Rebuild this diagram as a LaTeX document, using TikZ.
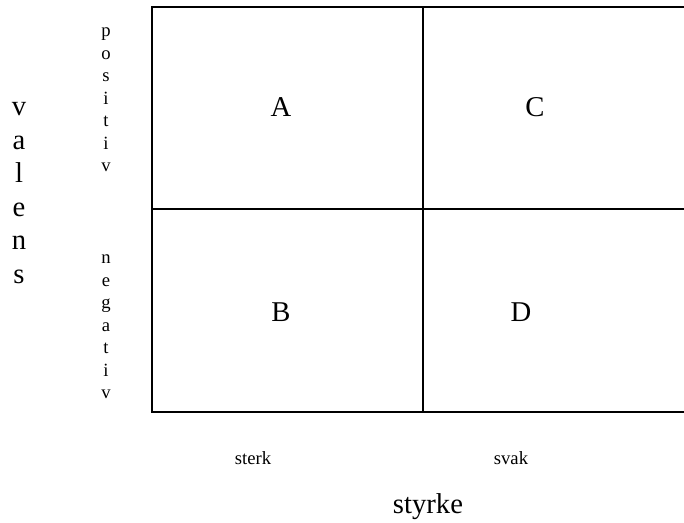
\documentclass[tikz,border=0pt]{standalone}
\usepackage{fontspec}
\setmainfont{Liberation Serif}
\usetikzlibrary{positioning}

\begin{document}
\begin{tikzpicture}[x=0.75pt, y=-0.75pt,
    big/.style={font=\fontsize{21.5}{25.2}\selectfont, inner sep=0pt, align=center},
    small/.style={font=\fontsize{14}{16.9}\selectfont, inner sep=0pt, align=center},
    grid/.style={line width=1.5pt}]
    \useasboundingbox (0,0) rectangle (684,523);
    % rutenett
    \coordinate (nw) at (152,7);
    \coordinate (sw) at (152,412);
    \coordinate (ne) at (690,7);
    \coordinate (se) at (690,412);
    \coordinate (wm) at (152,209);
    \coordinate (em) at (690,209);
    \coordinate (nm) at (423,7);
    \coordinate (sm) at (423,412);
    \draw[grid] (ne) -- (nw) -- (sw) -- (se);
    \draw[grid] (wm) -- (em);
    \draw[grid] (nm) -- (sm);
    % felt
    \node[big] (a) at (281,107) {A};
    \node[big] (c) at (535,107) {C};
    \node[big] (b) at (281,312) {B};
    \node[big] (d) at (521,312) {D};
    % akser
    \node[big] (valens) at (19,193) {v\\a\\l\\e\\n\\s};
    \node[small] (pos) at (106,100) {p\\o\\s\\i\\t\\i\\v};
    \node[small] (neg) at (106,327) {n\\e\\g\\a\\t\\i\\v};
    \node[small] (sterk) at (253,458) {sterk};
    \node[small] (svak) at (511,458) {svak};
    \node[big] (styrke) at (428,507) {styrke};
\end{tikzpicture}
\end{document}
